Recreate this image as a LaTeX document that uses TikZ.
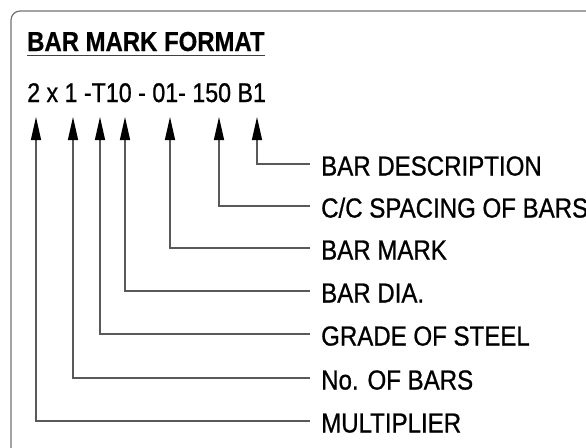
\documentclass[tikz,border=0pt]{standalone}
\usepackage{fontspec}
\setmainfont[FakeStretch=0.86,FakeBold=0.8,BoldFeatures={FakeStretch=0.87,FakeBold=0.4}]{Liberation Sans}
\newfontfamily\lblfont[FakeStretch=0.875,FakeBold=0.8]{Liberation Sans}
\usetikzlibrary{arrows.meta}
\tikzset{
  lbl/.style={anchor=west, inner xsep=11pt, inner ysep=0pt, font=\lblfont\fontsize{27.5}{30}\selectfont, text height=23pt, text depth=0pt},
  lead/.style={draw=black!65, line width=1.3pt, -{Triangle[length=23pt,width=10pt,color=black]}}
}
\begin{document}
\begin{tikzpicture}[x=1pt,y=-1pt]
\path[use as bounding box] (0,0) rectangle (586,447);
\draw[black!55, line width=1.2pt, rounded corners=9pt] (11,455) -- (11,11) -- (600,11);
% heading and bar mark
\node[anchor=base west, inner sep=0pt, font=\bfseries\fontsize{27.5}{30}\selectfont] (title) at (27,51) {BAR MARK FORMAT};
\draw[black!75, line width=1.3pt] ([yshift=-4.5pt]title.base west) -- ([yshift=-4.5pt]title.base east);
\node[anchor=base west, inner sep=0pt, font=\fontsize{27}{30}\selectfont] (mark) at (27,102) {2 x 1 -T10 - 01- 150 B1};
% arrow tips under the mark
\coordinate (t1) at (36,117);
\coordinate (t2) at (73,117);
\coordinate (t3) at (100,117);
\coordinate (t4) at (125,117);
\coordinate (t5) at (170,117);
\coordinate (t6) at (219,117);
\coordinate (t7) at (257,117);
% descriptions
\node[lbl] (desc) at (310,164) {BAR DESCRIPTION};
\node[lbl] (spac) at (310,206) {C/C SPACING OF BARS};
\node[lbl] (bmark) at (310,248) {BAR MARK};
\node[lbl] (dia) at (310,291) {BAR DIA.};
\node[lbl] (grade) at (310,334) {GRADE OF STEEL};
\node[lbl] (nos) at (310,378) {No. OF BARS};
\node[lbl] (mult) at (310,421) {MULTIPLIER};
\draw[lead] (desc.west) -| (t7);
\draw[lead] (spac.west) -| (t6);
\draw[lead] (bmark.west) -| (t5);
\draw[lead] (dia.west) -| (t4);
\draw[lead] (grade.west) -| (t3);
\draw[lead] (nos.west) -| (t2);
\draw[lead] (mult.west) -| (t1);
\end{tikzpicture}
\end{document}
